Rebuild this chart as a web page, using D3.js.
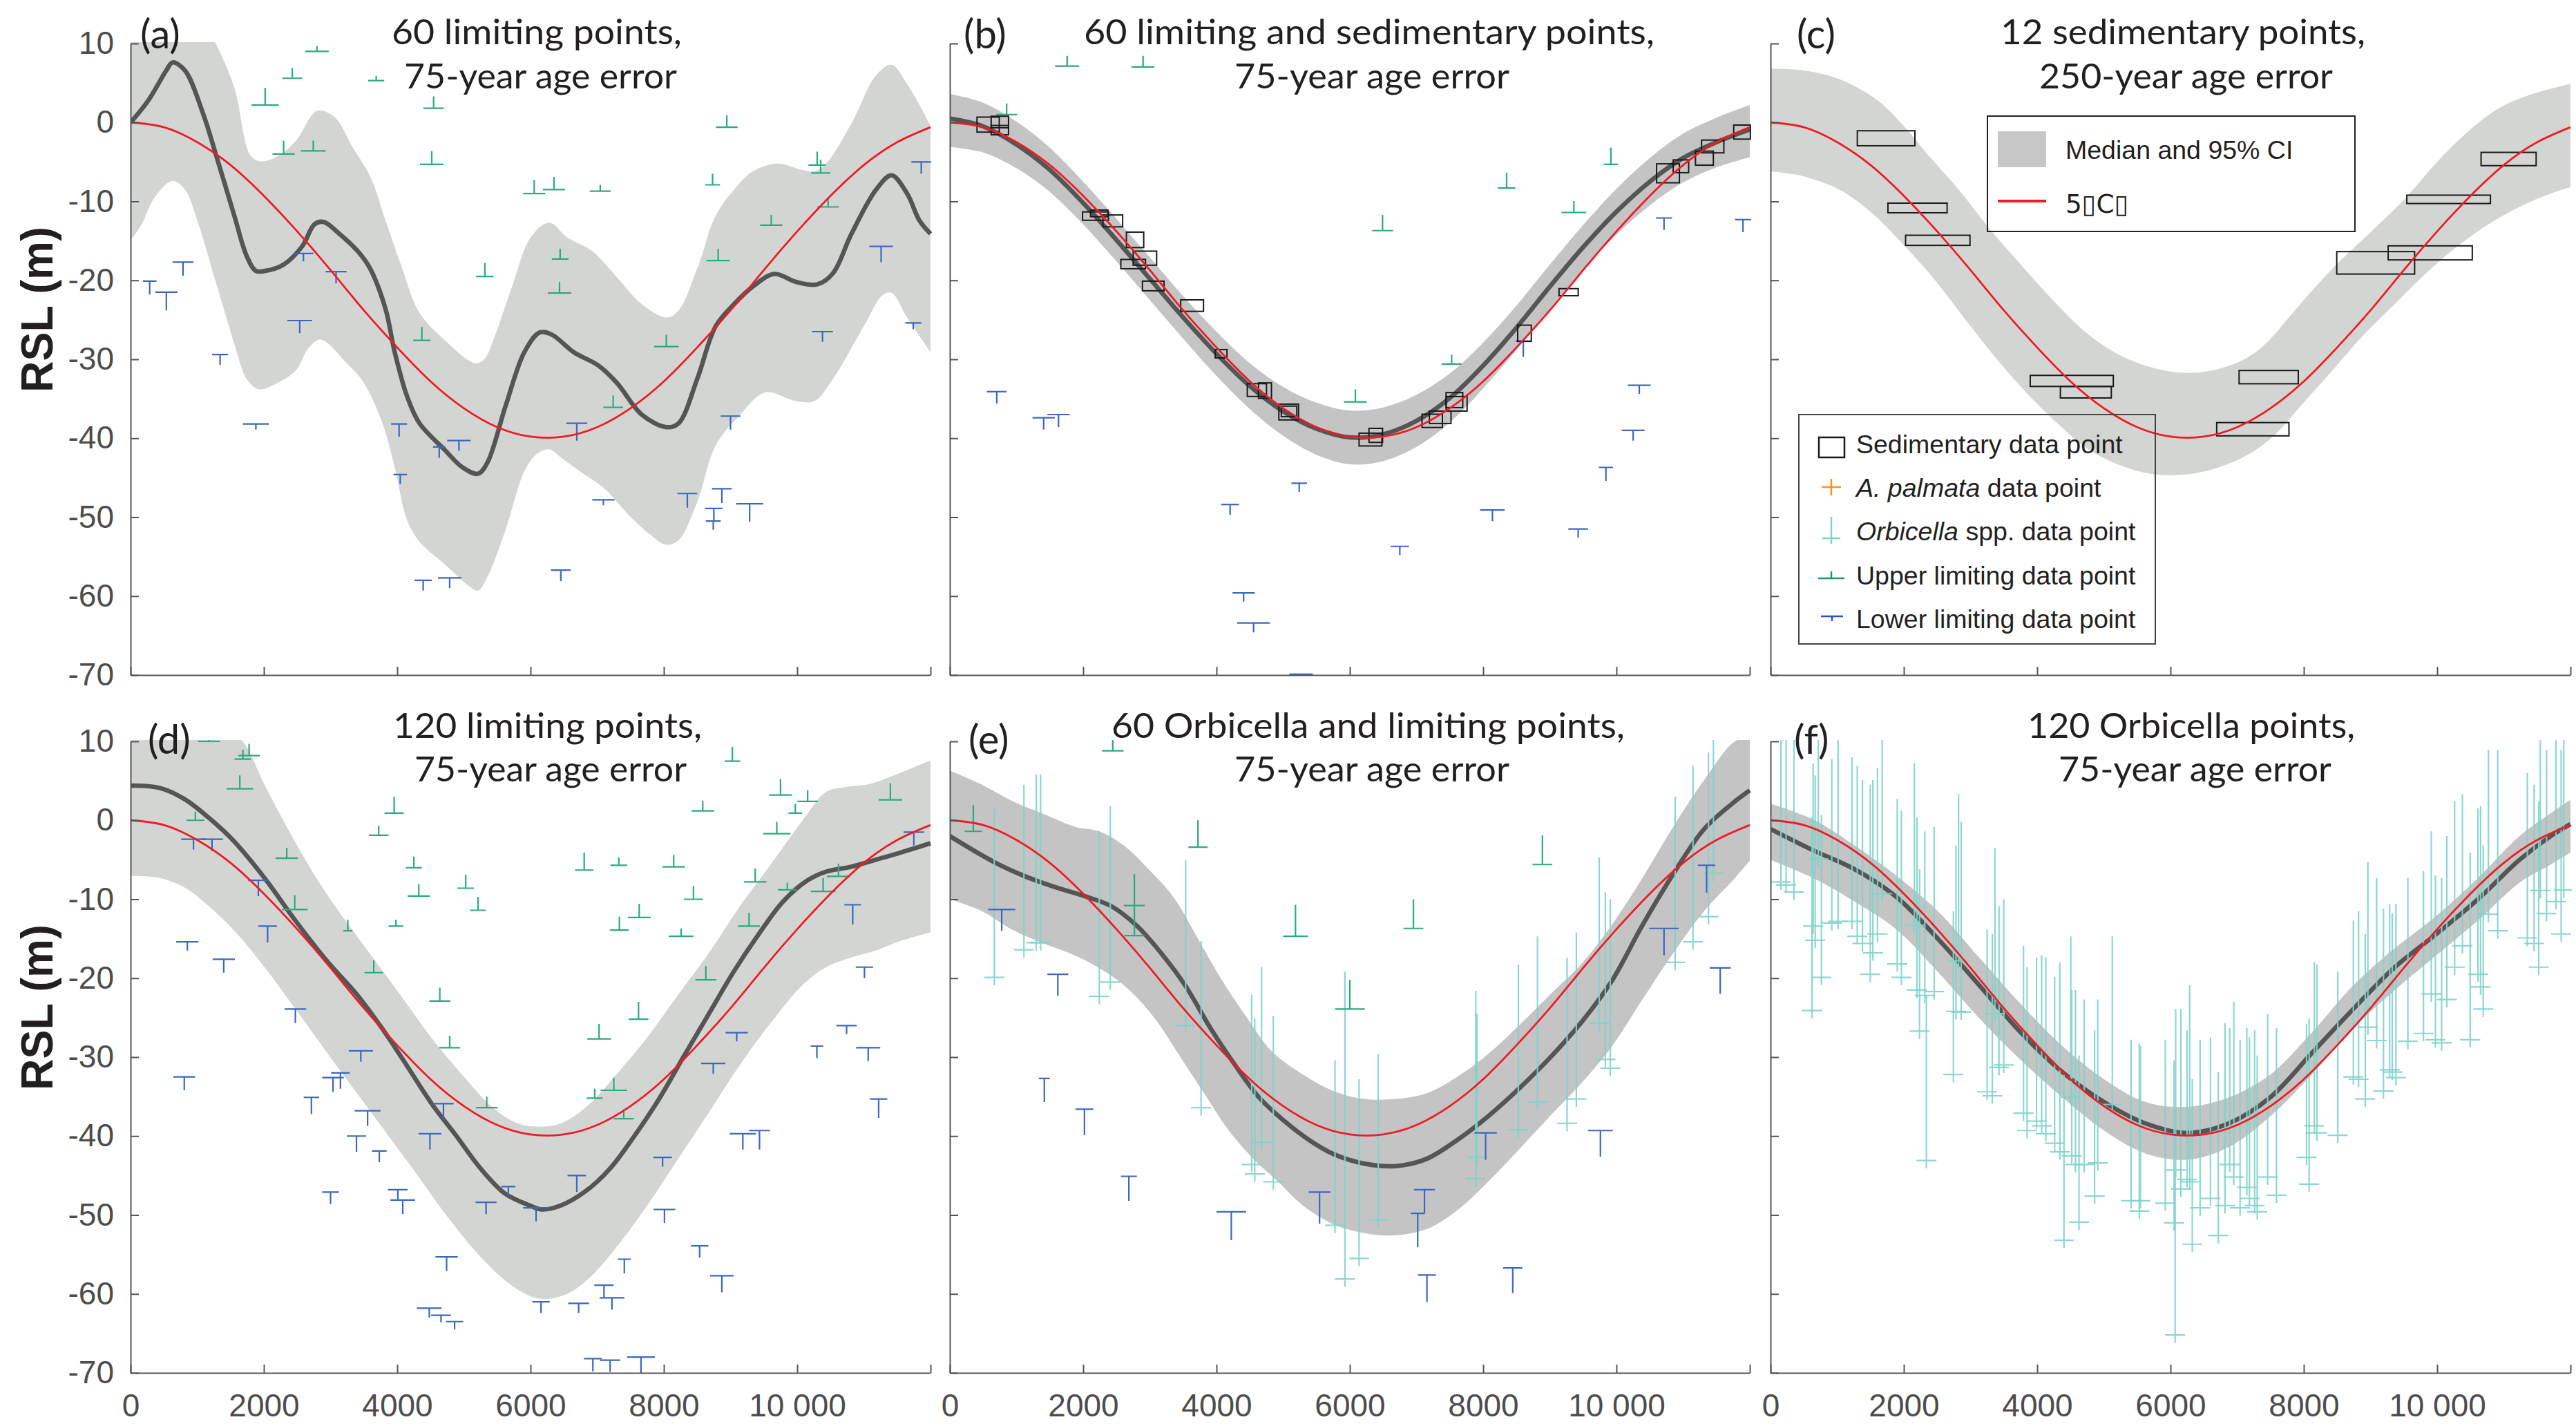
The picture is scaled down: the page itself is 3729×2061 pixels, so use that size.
<!DOCTYPE html>
<html>
<head>
<meta charset="utf-8">
<script src="https://cdn.jsdelivr.net/npm/d3@7"></script>
<style>
  html, body { margin: 0; padding: 0; background: #fff; }
  svg { display: block; }
</style>
</head>
<body>
<svg id="chart" width="3729" height="2061"></svg>
<script>
// ---- shared "true" RSL curve (red) ----
const RED_YEARS = [0, 500, 1000, 1500, 2000, 2500, 3000, 3500, 4000, 4500, 5000, 5500, 6000,
  6500, 7000, 7500, 8000, 8500, 9000, 9500, 10000, 10500, 11000, 11500, 12000];
const RED_RSL = [0, -0.6, -2.5, -5.4, -9.3, -13.8, -18.7, -23.8, -28.5, -32.8, -36.2, -38.6, -39.8,
  -39.8, -38.6, -36.2, -32.8, -28.5, -23.8, -18.7, -13.8, -9.3, -5.4, -2.5, -0.6];

// ---- axis ticks ----
const X_TICKS = [0, 2000, 4000, 6000, 8000, 10000, 12000];
const X_LABELS = ["0", "2000", "4000", "6000", "8000", "10 000", ""];
const Y_TICKS = [10, 0, -10, -20, -30, -40, -50, -60, -70];

// ---- (a) 60 limiting points ----
const medianA = [[0, 0], [259, 2.7], [537, 6.6], [630, 7.6], [815, 6.6], [1093, 1.0], [1278, -4.0],
  [1556, -11.8], [1741, -16.9], [1880, -18.8], [2019, -18.8], [2296, -18.0], [2574, -15.7],
  [2759, -12.9], [2898, -12.6], [3130, -14.1], [3407, -16.3], [3593, -18.5], [3824, -23.6],
  [3963, -29.1], [4148, -34.7], [4333, -38.1], [4704, -41.4], [4981, -43.7], [5213, -44.5],
  [5352, -43.1], [5630, -35.8], [5907, -29.1], [6139, -26.6], [6324, -26.9], [6648, -29.1],
  [7019, -30.8], [7296, -33.0], [7667, -37.0], [8037, -38.6], [8222, -38.1], [8500, -32.5],
  [8778, -25.8], [9055, -23.0], [9333, -20.8], [9657, -19.2], [9981, -20.2], [10305, -20.5],
  [10537, -19.1], [10815, -14.1], [11185, -8.5], [11416, -6.7], [11648, -9.0], [11833, -12.4],
  [12000, -14.1]];
const upperA = [[0, 13], [600, 17], [1000, 14], [1278, 10], [1556, 4.4], [1787, -4.0], [1926, -4.9],
  [2204, -4.3], [2481, -2.3], [2759, 1.3], [2870, 1.5], [3083, 0.5], [3315, -2.9], [3593, -6.8],
  [3824, -12.4], [4055, -18.0], [4333, -24.1], [4704, -27.5], [5167, -30.5], [5306, -30.0],
  [5444, -27.5], [5722, -20.8], [6000, -14.6], [6278, -12.7], [6555, -14.6], [6926, -16.3],
  [7296, -19.6], [7667, -23.0], [8037, -24.7], [8222, -23.8], [8500, -18.5], [8778, -11.8],
  [9055, -8.5], [9333, -6.2], [9704, -5.2], [10074, -6.0], [10259, -6.2], [10444, -5.1],
  [10815, -0.1], [11185, 6.0], [11416, 7.3], [11648, 4.9], [12000, -0.4]];
const lowerA = [[0, -14.9], [167, -12.9], [352, -9.6], [630, -7.4], [815, -8.5], [1000, -12.4],
  [1278, -20.2], [1556, -28.0], [1741, -32.5], [1926, -33.8], [2204, -33.0], [2481, -31.4],
  [2667, -28.6], [2852, -27.5], [3222, -30.3], [3500, -33.0], [3778, -38.1], [3963, -43.7],
  [4148, -50.4], [4333, -53.1], [4704, -55.9], [5074, -58.7], [5213, -59.3], [5352, -57.6],
  [5630, -51.5], [5907, -44.2], [6093, -42.0], [6278, -41.4], [6463, -42.5], [6741, -44.2],
  [7111, -46.4], [7481, -49.8], [7852, -52.6], [8037, -53.5], [8222, -52.9], [8500, -48.1],
  [8778, -40.9], [9148, -37.0], [9519, -34.2], [9981, -35.3], [10259, -35.3], [10537, -32.5],
  [11000, -25.8], [11278, -21.9], [11416, -21.6], [11648, -24.7], [12000, -29.1]];
// [age, RSL, age half-width, stem length]
const upperLimA = [[2796, 9.0, 176, 0.7], [2426, 5.6, 148, 1.3], [3685, 5.3, 120, 0.6],
  [2019, 2.2, 204, 2.2], [4546, 1.8, 153, 1.5], [2296, -4.0, 167, 1.7], [2741, -3.6, 185, 1.3],
  [4518, -5.3, 176, 1.7], [6055, -9.0, 167, 1.7], [6352, -8.5, 167, 1.6], [7046, -8.7, 157, 0.8],
  [8944, -0.6, 162, 1.5], [8731, -7.9, 111, 1.4], [10352, -6.4, 144, 1.7], [10300, -5.4, 130, 1.7],
  [10463, -10.7, 162, 1.1], [9611, -13.0, 167, 1.3], [8815, -17.5, 176, 1.5], [6444, -17.3, 125, 1.3],
  [5315, -19.5, 130, 1.7], [6435, -21.6, 176, 1.4], [4370, -27.6, 130, 1.7], [8037, -28.4, 185, 1.5],
  [7240, -36.1, 148, 1.5]];
const lowerLimA = [[287, -20.1, 102, 1.7], [537, -21.5, 167, 2.3], [787, -17.7, 157, 1.7],
  [1343, -29.4, 120, 1.3], [1880, -38.2, 194, 0.7], [2593, -16.6, 148, 1.0], [2537, -25.1, 185, 1.6],
  [3083, -18.9, 157, 1.5], [4028, -38.2, 120, 1.6], [4046, -44.6, 102, 1.2], [4630, -41.1, 93, 1.4],
  [4926, -40.3, 176, 1.3], [4389, -58.0, 130, 1.3], [4787, -57.7, 176, 1.3], [6454, -56.7, 148, 1.4],
  [6694, -38.1, 157, 2.2], [7093, -47.8, 167, 0.7], [8352, -47.0, 148, 1.8], [8750, -48.9, 130, 1.5],
  [8741, -50.5, 111, 1.1], [8870, -46.4, 148, 1.8], [9287, -48.3, 204, 2.3], [9000, -37.2, 148, 1.7],
  [10380, -26.5, 157, 1.3], [11259, -15.7, 176, 2.0], [11741, -25.4, 120, 0.8], [11861, -5.0, 148, 1.5]];

// ---- (b) 60 limiting and sedimentary points ----
const medianB = [[0, 0.5], [500, -0.5], [1000, -2.8], [1500, -6.0], [2000, -10.2], [2500, -14.9],
  [3000, -19.8], [3500, -24.7], [4000, -29.3], [4500, -33.4], [5000, -36.6], [5500, -38.8],
  [6000, -39.9], [6500, -39.5], [7000, -37.8], [7500, -34.9], [8000, -30.8], [8500, -26.0],
  [9000, -20.8], [9500, -15.8], [10000, -11.3], [10500, -7.5], [11000, -4.5], [11500, -2.5],
  [12000, -0.9]];
const upperB = [[0, 3.6], [500, 2.5], [1000, 0.1], [1500, -3.2], [2000, -7.5], [2500, -12.2],
  [3000, -17.1], [3500, -22.0], [4000, -26.5], [4500, -30.5], [5000, -33.5], [5500, -35.5],
  [6000, -36.5], [6500, -36.1], [7000, -34.5], [7500, -31.8], [8000, -27.9], [8500, -23.2],
  [9000, -18.0], [9500, -13.0], [10000, -8.4], [10500, -4.5], [11000, -1.4], [11500, 0.6],
  [12000, 2.2]];
const lowerB = [[0, -3.1], [500, -3.8], [1000, -5.8], [1500, -8.8], [2000, -12.9], [2500, -17.6],
  [3000, -22.5], [3500, -27.4], [4000, -32.1], [4500, -36.3], [5000, -39.7], [5500, -42.1],
  [6000, -43.3], [6500, -42.9], [7000, -41.1], [7500, -38.0], [8000, -33.7], [8500, -28.8],
  [9000, -23.6], [9500, -18.6], [10000, -14.2], [10500, -10.5], [11000, -7.6], [11500, -5.7],
  [12000, -4.4]];
const upperLimB = [[1759, 7.15, 181, 1.3], [2898, 7.04, 171, 1.4], [852, 1.0, 157, 1.4],
  [6491, -13.7, 157, 2.0], [8352, -8.3, 130, 1.9], [9916, -5.3, 106, 2.1], [9361, -11.4, 185, 1.45],
  [7528, -30.6, 148, 1.2], [6083, -35.4, 171, 1.6]];
const lowerLimB = [[704, -34.1, 148, 1.5], [1407, -37.4, 167, 1.5], [1630, -37.0, 167, 1.6],
  [4204, -48.4, 134, 1.3], [5241, -45.7, 116, 1.1], [4407, -59.6, 167, 1.1], [4556, -63.4, 245, 1.2],
  [5269, -69.9, 176, 0.5], [6750, -53.7, 139, 1.1], [8139, -49.1, 185, 1.4], [9426, -51.5, 148, 1.1],
  [9842, -43.7, 106, 1.7], [10250, -39.0, 171, 1.3], [10342, -33.3, 171, 1.1], [8602, -27.7, 116, 2.0],
  [10713, -12.1, 120, 1.5], [11898, -12.3, 120, 1.6]];
// [age, RSL, age half-width, depth half-height]
const sedB = [[574, -0.27, 167, 0.95], [750, 0.06, 130, 0.73], [750, -0.97, 130, 0.59],
  [2185, -11.86, 194, 0.53], [2241, -11.52, 130, 0.42], [2444, -12.47, 148, 0.75],
  [2778, -14.87, 130, 0.98], [2926, -17.19, 176, 0.89], [2750, -17.94, 185, 0.59],
  [3051, -20.71, 162, 0.61], [3634, -23.2, 171, 0.73], [4069, -29.3, 88, 0.53],
  [4606, -33.9, 144, 0.81], [4727, -33.97, 97, 0.98], [5083, -36.68, 148, 1.0],
  [5088, -36.6, 116, 0.67], [6310, -40.17, 171, 0.81], [6389, -39.64, 102, 0.89],
  [7236, -37.8, 153, 0.84], [7356, -37.35, 162, 0.78], [7569, -35.17, 125, 0.95],
  [7602, -35.64, 157, 0.92], [8620, -26.71, 102, 1.03], [9282, -21.5, 144, 0.45],
  [10773, -6.44, 171, 1.2], [10967, -5.55, 116, 0.81], [11319, -4.52, 134, 0.89],
  [11444, -3.04, 167, 0.81], [11884, -1.22, 125, 0.89]];

// ---- (c) 12 sedimentary points ----
const upperC = [[0, 6.8], [483, 6.6], [1029, 5.5], [1574, 3.0], [1964, -0.1], [2353, -4.0],
  [2821, -8.5], [3288, -13.5], [3756, -18.0], [4224, -22.4], [4691, -26.3], [5159, -29.1],
  [5626, -30.8], [6171, -31.7], [6639, -31.4], [7106, -30.0], [7418, -28.1], [7886, -23.6],
  [8431, -18.5], [8977, -14.1], [9522, -9.6], [9989, -5.1], [10457, -1.2], [10925, 1.8],
  [11392, 3.5], [12000, 4.9]];
const lowerC = [[0, -6.2], [483, -6.8], [1029, -8.5], [1496, -11.3], [1964, -15.2], [2431, -19.6],
  [2899, -24.7], [3366, -29.7], [3834, -34.2], [4301, -38.1], [4769, -41.4], [5236, -43.4],
  [5704, -44.5], [6249, -44.6], [6717, -43.7], [7184, -42.0], [7574, -39.5], [7964, -35.8],
  [8431, -31.4], [8899, -26.9], [9366, -23.0], [9834, -19.1], [10301, -15.7], [10769, -12.9],
  [11236, -10.7], [11704, -9.0], [12000, -8.2]];
const sedC = [[1734, -2.0, 432, 0.95], [2205, -10.83, 444, 0.61], [2509, -14.93, 483, 0.64],
  [4519, -32.74, 623, 0.70], [4730, -34.17, 382, 0.73], [7473, -32.26, 444, 0.84],
  [7235, -38.86, 542, 0.84], [9078, -17.78, 584, 1.42], [9896, -16.52, 631, 0.89],
  [10172, -9.74, 627, 0.53], [11072, -4.63, 413, 0.84]];

// ---- (d) 120 limiting points ----
const medianD = [[0, 4.4], [435, 4.1], [806, 2.7], [1176, 0.3], [1546, -2.6], [2009, -7.3],
  [2472, -12.7], [2935, -17.7], [3398, -22.1], [3768, -26.3], [4139, -31.0], [4509, -35.8],
  [4880, -39.9], [5250, -44.1], [5620, -47.3], [5991, -48.8], [6176, -49.3], [6454, -48.8],
  [6824, -47.0], [7194, -44.1], [7565, -39.9], [7935, -35.2], [8306, -29.8], [8676, -24.5],
  [9046, -19.2], [9417, -14.5], [9787, -10.3], [10157, -7.6], [10435, -6.5], [10805, -5.9],
  [11176, -5.0], [11546, -4.1], [12000, -2.9]];
const upperD = [[0, 15], [800, 14.5], [1300, 12.5], [1685, 10], [2009, 4.5], [2380, -1.4],
  [2750, -6.8], [3120, -11.5], [3583, -16.8], [4046, -22.1], [4509, -27.5], [4972, -32.2],
  [5435, -36.4], [5806, -38.4], [6130, -38.8], [6454, -38.4], [6824, -36.4], [7287, -32.2],
  [7750, -27.5], [8213, -22.1], [8676, -16.8], [9139, -10.9], [9602, -5.6], [10065, -0.2],
  [10435, 3.6], [10713, 4.2], [11083, 4.6], [11453, 5.7], [12000, 7.6]];
const lowerD = [[0, -7.05], [435, -7.3], [806, -8.5], [1176, -10.9], [1546, -13.9], [2009, -18.6],
  [2472, -23.9], [2935, -29.3], [3398, -34.6], [3861, -39.9], [4324, -45.2], [4787, -50.6],
  [5250, -55.3], [5713, -58.9], [6130, -60.6], [6546, -60.0], [6917, -57.7], [7287, -54.1],
  [7750, -48.8], [8213, -42.9], [8676, -37.0], [9139, -31.0], [9602, -25.7], [10065, -21.0],
  [10435, -18.6], [10805, -17.4], [11176, -16.5], [11546, -15.3], [12000, -14.2]];
const upperLimD = [[1176, 10, 162, 1.2], [1685, 7.75, 125, 1.2], [1778, 8.2, 162, 1.5],
  [1639, 4.0, 199, 1.7], [972, 0.0, 134, 1.1], [2343, -4.8, 167, 1.3], [2463, -11.3, 194, 1.8],
  [3259, -14.0, 69, 1.4], [3722, -1.9, 148, 1.2], [3954, 0.9, 144, 2.1], [4250, -6.0, 120, 1.4],
  [4324, -9.6, 167, 1.5], [3981, -13.4, 111, 0.8], [5028, -8.6, 125, 1.7], [5213, -11.4, 120, 1.7],
  [3648, -19.3, 139, 1.6], [4639, -22.9, 157, 1.7], [4787, -28.8, 157, 1.5], [5343, -36.4, 162, 1.4],
  [6805, -6.3, 139, 2.2], [7324, -5.7, 125, 1.0], [8148, -5.9, 167, 1.5], [8444, -10.0, 144, 1.7],
  [8259, -14.7, 185, 1.0], [7333, -13.9, 139, 1.7], [7630, -12.3, 171, 1.7], [7028, -27.7, 176, 1.9],
  [7250, -34.2, 199, 1.6], [6963, -35.2, 120, 1.2], [7398, -37.8, 148, 1.2], [7620, -25.2, 148, 2.2],
  [8630, -20.2, 157, 1.7], [8583, 1.2, 167, 1.3], [9028, 7.5, 116, 1.8], [9750, 3.2, 171, 2.0],
  [10157, 2.4, 153, 1.4], [9972, 0.9, 102, 1.2], [9694, -1.7, 204, 1.5], [9370, -7.8, 167, 1.7],
  [9278, -13.4, 162, 1.7], [9852, -8.8, 139, 0.9], [10389, -9.0, 185, 1.7], [10620, -7.1, 176, 1.6],
  [11398, 2.6, 176, 2.1]];
const lowerLimD = [[944, -2.4, 185, 1.3], [1222, -2.4, 162, 1.5], [1917, -7.6, 153, 2.0],
  [2056, -13.4, 139, 2.1], [852, -15.4, 167, 1.1], [1398, -17.6, 167, 1.7], [2472, -23.9, 162, 1.8],
  [806, -32.5, 162, 1.7], [3454, -29.2, 181, 1.4], [3037, -32.6, 162, 1.8], [3148, -32.0, 139, 2.0],
  [2713, -35.1, 116, 2.1], [3556, -36.8, 194, 1.9], [3389, -40.0, 144, 2.0], [3731, -41.9, 111, 1.4],
  [4491, -39.7, 171, 2.0], [4694, -35.9, 153, 2.1], [3000, -47.1, 125, 1.5], [4009, -46.8, 148, 1.2],
  [4083, -48.1, 185, 1.8], [5333, -48.4, 157, 1.5], [5667, -46.4, 106, 1.2], [6083, -49.1, 194, 1.7],
  [6694, -45.0, 139, 2.1], [7981, -42.7, 139, 1.2], [8009, -49.3, 162, 1.7], [8537, -53.9, 130, 1.5],
  [8870, -57.7, 176, 2.1], [8741, -30.8, 181, 1.3], [9093, -26.9, 167, 1.1], [9185, -39.7, 194, 2.0],
  [9435, -39.3, 157, 2.4], [10296, -28.6, 93, 1.5], [10741, -26.0, 153, 1.1], [11065, -28.8, 181, 1.7],
  [11222, -35.3, 130, 2.4], [11009, -18.6, 130, 1.4], [10833, -10.7, 125, 2.5], [11750, -1.5, 153, 1.7],
  [4741, -55.3, 167, 1.8], [4481, -61.8, 185, 1.2], [4657, -62.7, 148, 0.9], [4861, -63.5, 130, 1.0],
  [6157, -61.0, 130, 1.4], [6722, -61.2, 157, 1.2], [7102, -58.9, 144, 1.6], [7222, -60.5, 185, 1.5],
  [7407, -55.6, 97, 1.8], [6935, -68.2, 134, 1.6], [7194, -68.4, 153, 1.5], [7657, -68.0, 208, 2.0]];

// ---- (e) 60 Orbicella and limiting points ----
const medianE = [[0, -2.0], [667, -5.3], [1130, -7.1], [1593, -8.5], [2056, -9.7], [2426, -10.9],
  [2796, -13.3], [3167, -16.8], [3537, -21.0], [3907, -26.3], [4278, -31.0], [4648, -35.2],
  [5018, -38.1], [5389, -40.5], [5759, -42.3], [6222, -43.5], [6685, -43.8], [7148, -42.9],
  [7611, -40.5], [8074, -37.5], [8537, -34.0], [9000, -30.1], [9463, -25.7], [9926, -20.4],
  [10389, -13.3], [10852, -6.8], [11315, -1.1], [11778, 2.4], [12000, 3.8]];
const upperE = [[0, 6.3], [481, 4.5], [944, 2.4], [1407, 0.8], [1870, -0.8], [2241, -1.4],
  [2611, -3.2], [2981, -6.2], [3352, -9.7], [3722, -15.0], [4093, -20.4], [4463, -25.1],
  [4833, -29.3], [5296, -32.2], [5759, -34.3], [6222, -35.3], [6685, -35.3], [7148, -34.6],
  [7611, -32.5], [8074, -29.6], [8537, -26.0], [9000, -22.1], [9463, -18.3], [9926, -13.3],
  [10389, -7.3], [10852, -0.8], [11315, 5.1], [11778, 10], [12000, 10.4]];
const lowerE = [[0, -10.0], [481, -11.5], [944, -13.9], [1407, -15.6], [1870, -17.1], [2333, -19.2],
  [2704, -21.6], [3074, -25.1], [3444, -29.8], [3815, -34.6], [4185, -39.3], [4555, -42.9],
  [4926, -45.8], [5296, -48.8], [5759, -51.2], [6222, -52.3], [6639, -52.6], [7148, -51.8],
  [7611, -49.4], [8074, -45.8], [8537, -41.7], [9000, -37.5], [9463, -33.4], [9926, -28.7],
  [10389, -22.7], [10852, -16.8], [11315, -11.5], [11778, -7.3], [12000, -5.1]];
const upperLimE = [[352, -1.4, 130, 3.3], [2444, 8.8, 162, 1.7], [3722, -3.4, 144, 3.4],
  [2768, -14.6, 153, 3.7], [2768, -10.8, 157, 4.0], [5185, -14.7, 185, 4.0], [6954, -13.7, 148, 3.7],
  [8889, -5.6, 148, 3.7], [6000, -23.9, 222, 3.7]];
const lowerLimE = [[778, -11.3, 204, 2.7], [1620, -19.5, 157, 2.7], [1417, -32.7, 83, 3.0],
  [2019, -36.6, 134, 3.3], [2685, -45.1, 120, 3.1], [4222, -49.6, 222, 3.6], [5546, -47.1, 162, 4.0],
  [7018, -49.8, 102, 4.3], [7120, -46.8, 157, 3.0], [7157, -57.6, 134, 3.4], [8444, -56.7, 144, 3.2],
  [8037, -39.6, 167, 3.4], [9759, -39.3, 185, 3.3], [10713, -13.7, 222, 3.4], [11556, -18.7, 157, 3.3],
  [11352, -5.7, 130, 3.5]];
// [age, RSL at bar, top of depth range]
const orbE = [[667, -19.9, 1.5], [1111, -16.4, 4.5], [1296, -15.5, 5.8], [1361, -15.5, 5.8],
  [2241, -22.3, -1.4], [2407, -20.5, 1.8], [3537, -26.0, -5.0], [3769, -36.4, -15.3],
  [4528, -43.6, -22.1], [4574, -44.8, -25.1], [4676, -40.8, -18.6], [4852, -45.8, -24.8],
  [5778, -51.3, -30.4], [5926, -58.1, -19.2], [6139, -55.5, -32.8], [6426, -50.6, -29.6],
  [7889, -45.4, -21.6], [7907, -42.7, -24.5], [8528, -39.2, -18.3], [8815, -35.7, -14.7],
  [9259, -38.4, -17.4], [9398, -35.3, -14.2], [9741, -25.7, -4.7], [9833, -30.3, -9.1],
  [9907, -31.4, -10.0], [10880, -18.0, 3.0], [11148, -15.4, 6.9], [11380, -12.2, 8.6],
  [11454, -6.7, 12]];

// ---- (f) 120 Orbicella points ----
const medianF = [[0, -1.1], [639, -3.8], [1262, -6.2], [1886, -9.7], [2509, -15.0], [3132, -20.9],
  [3756, -26.9], [4379, -31.9], [5003, -35.7], [5626, -38.4], [6249, -39.6], [6873, -38.4],
  [7496, -35.1], [8119, -29.5], [8743, -23.9], [9366, -18.6], [9989, -14.4], [10613, -10.0],
  [11236, -5.0], [11704, -2.0], [12000, -0.5]];
const upperF = [[0, 2.1], [639, 0.1], [1262, -3.2], [1886, -7.0], [2509, -11.5], [3132, -17.4],
  [3756, -23.3], [4379, -28.6], [5003, -32.8], [5626, -35.7], [6249, -36.3], [6873, -35.1],
  [7496, -32.2], [8119, -26.9], [8743, -20.9], [9366, -16.2], [9989, -12.1], [10613, -7.3],
  [11236, -2.0], [11704, 0.9], [12000, 2.6]];
const lowerF = [[0, -5.0], [639, -7.3], [1262, -10.3], [1886, -13.8], [2509, -19.2], [3132, -25.1],
  [3756, -30.4], [4379, -35.1], [5003, -39.3], [5626, -42.2], [6249, -43.0], [6873, -41.4],
  [7496, -37.5], [8119, -32.2], [8743, -26.3], [9366, -21.5], [9989, -17.1], [10613, -12.7],
  [11236, -7.9], [11704, -5.6], [12000, -4.1]];
const orbF = [[156, -7.8, 12], [234, -8.2, 12], [351, -9.1, 12], [639, -13.4, 7.2], [670, -15.2, 5.7],
  [623, -24.1, 0.4], [764, -19.9, 0.7], [717, -4.9, 12], [919, -13.0, 7.8], [1013, -12.8, 12],
  [1223, -12.8, 8.0], [1301, -14.7, 6.9], [1379, -15.6, 5.1], [1496, -19.5, 4.5], [1535, -16.8, 5.1],
  [1605, -14.4, 6.6], [1675, -9.3, 12], [1901, -18.2, 2.7], [1964, -19.9, 1.2], [2158, -13.3, 7.2],
  [2197, -21.5, 0.4], [2236, -26.7, -6.2], [2314, -22.2, -1.4], [2338, -43.1, -22.1], [2454, -21.7, -0.8],
  [2782, -24.2, -3.2], [2821, -17.8, 3.3], [2743, -32.2, -11.5], [2860, -24.3, -0.2], [3249, -34.4, -13.8],
  [3327, -34.9, -14.4], [3366, -24.5, -3.5], [3428, -31.3, -10.9], [3499, -31.0, -10.0], [3795, -37.1, -15.9],
  [3849, -39.3, -18.6], [3990, -38.1, -17.4], [4067, -38.7, -17.1], [4130, -39.7, -17.4], [4262, -40.9, -19.8],
  [4340, -42.0, -18.0], [4402, -53.2, -32.2], [4504, -35.1, -14.7], [4519, -42.5, -21.5], [4574, -43.6, -21.5],
  [4628, -50.9, -29.8], [4706, -43.6, -22.7], [4862, -47.6, -26.6], [4909, -43.4, -22.7], [5127, -36.0, -14.7],
  [5408, -48.2, -27.8], [5532, -49.5, -28.3], [5548, -48.2, -28.6], [5922, -48.5, -27.8], [6054, -51.0, -30.4],
  [6078, -44.3, -23.9], [6156, -46.7, -23.9], [6070, -65.2, -44.6], [6249, -45.5, -26.6], [6288, -45.8, -20.9],
  [6327, -53.7, -32.8], [6444, -49.1, -27.8], [6600, -47.9, -27.5], [6717, -52.6, -31.9], [6818, -48.8, -25.7],
  [6888, -43.6, -26.3], [6950, -45.2, -23.0], [7044, -49.1, -27.8], [7145, -46.5, -26.3], [7184, -47.9, -27.5],
  [7262, -48.8, -26.6], [7301, -49.6, -29.8], [7457, -45.2, -24.5], [7589, -47.5, -26.3], [8041, -42.7, -25.8],
  [8080, -46.1, -25.1], [8158, -38.7, -18.0], [8197, -39.6, -18.3], [8509, -39.9, -19.2], [8743, -32.5, -12.7],
  [8821, -32.8, -11.5], [8922, -35.3, -14.4], [8961, -26.2, -5.3], [9093, -27.9, -7.3], [9195, -34.3, -11.2],
  [9288, -31.6, -10.6], [9327, -31.9, -11.8], [9382, -32.6, -10.6], [9561, -28.0, -7.3], [9795, -27.0, -6.4],
  [9912, -22.0, -1.4], [9974, -27.8, -7.0], [10067, -28.2, -7.3], [10145, -22.7, -2.0], [10262, -18.6, 2.4],
  [10379, -15.9, 3.3], [10496, -27.8, -4.1], [10613, -19.5, 1.5], [10652, -21.1, 1.8], [10691, -23.9, -3.2],
  [10769, -11.9, 8.9], [10909, -14.0, 8.9], [11353, -14.9, 6.0], [11454, -15.6, 4.5], [11524, -18.6, 2.4],
  [11548, -8.9, 12], [11641, -11.8, 8.9], [11782, -10.3, 12], [11860, -14.4, 8.9], [11899, -8.8, 12]];

// Orbicella symbol constants (years / metres)
const ORB_AGE_HW = 150;
const ORB_BELOW = 1.0;

// ---- layout ----
const COLS = [189, 1375, 2563];
const ROWS = [63, 1073];
const PW = 1158, PH = 914;

const TICK_FONT = "'Liberation Sans', Arial, Helvetica, sans-serif";
const TITLE_FONT = "Lato, 'Open Sans', sans-serif";

const COLORS = {
  bandLight: "#d3d5d3",
  bandDark: "#c4c4c4",
  median: "#555555",
  red: "#ee1c25",
  upper: "#2aaa80",
  lower: "#3c67c0",
  orb: "#7fd3cb",
  palmata: "#f7941d",
  axis: "#555555",
  tickText: "#4d4d4d",
  text: "#231f20"
};

const panels = [
  { id: "a", col: 0, row: 0, band: COLORS.bandLight, upper: upperA, lower: lowerA, median: medianA,
    upLim: upperLimA, loLim: lowerLimA,
    label: { x: 203 }, titles: [["60 limiting points,", 567, 420], ["75-year age error", 585, 395]] },
  { id: "b", col: 1, row: 0, band: COLORS.bandDark, upper: upperB, lower: lowerB, median: medianB,
    upLim: upperLimB, loLim: lowerLimB, sed: sedB,
    label: { x: 1395 }, titles: [["60 limiting and sedimentary points,", 1569, 826], ["75-year age error", 1787, 398]] },
  { id: "c", col: 2, row: 0, band: COLORS.bandLight, upper: upperC, lower: lowerC, sed: sedC,
    label: { x: 2601 }, titles: [["12 sedimentary points,", 2896, 528], ["250-year age error", 2952, 425]] },
  { id: "d", col: 0, row: 1, band: COLORS.bandLight, upper: upperD, lower: lowerD, median: medianD,
    upLim: upperLimD, loLim: lowerLimD,
    label: { x: 214 }, titles: [["120 limiting points,", 569, 447], ["75-year age error", 600, 394]] },
  { id: "e", col: 1, row: 1, band: COLORS.bandDark, upper: upperE, lower: lowerE, median: medianE,
    upLim: upperLimE, loLim: lowerLimE, orb: orbE,
    label: { x: 1402 }, titles: [["60 Orbicella and limiting points,", 1609, 743], ["75-year age error", 1787, 398]] },
  { id: "f", col: 2, row: 1, band: COLORS.bandDark, upper: upperF, lower: lowerF, median: medianF,
    orb: orbF,
    label: { x: 2597 }, titles: [["120 Orbicella points,", 2935, 474], ["75-year age error", 2980, 395]] }
];

const svg = d3.select("#chart");
svg.append("rect").attr("width", 3729).attr("height", 2061).attr("fill", "#fff");

const x = d3.scaleLinear().domain([0, 12000]).range([0, PW]);
const y = d3.scaleLinear().domain([-70, 10]).range([PH, 0]);

const smooth = d3.line()
  .x((d) => x(d[0]))
  .y((d) => y(d[1]))
  .curve(d3.curveCatmullRom.alpha(0.5));

const redLine = d3.line()
  .x((d) => x(d[0]))
  .y((d) => y(d[1]))
  .curve(d3.curveNatural);

const redPts = RED_YEARS.map((yr, i) => [yr, RED_RSL[i]]);

panels.forEach(drawPanel);

function drawPanel(p) {
  const ox = COLS[p.col], oy = ROWS[p.row];
  const g = svg.append("g").attr("transform", `translate(${ox},${oy})`);

  const clipId = "clip-" + p.id;
  g.append("clipPath").attr("id", clipId)
    .append("rect").attr("x", 0).attr("y", -2).attr("width", PW + 2).attr("height", PH + 2);

  const plot = g.append("g").attr("clip-path", `url(#${clipId})`);

  // credible interval band
  const top = smooth(p.upper);
  const bottom = smooth(p.lower.slice().reverse());
  plot.append("path")
    .attr("d", top + "L" + bottom.slice(1) + "Z")
    .attr("fill", p.band)
    .attr("stroke", "none");

  // median
  if (p.median) {
    plot.append("path")
      .attr("d", smooth(p.median))
      .attr("fill", "none")
      .attr("stroke", COLORS.median)
      .attr("stroke-width", 6.5)
      .attr("stroke-linejoin", "round");
  }

  // Orbicella points
  if (p.orb) {
    plot.append("g").selectAll("path")
      .data(p.orb)
      .enter()
      .append("path")
      .attr("d", (d) =>
        `M${x(d[0])},${y(d[2])}V${y(d[1] - ORB_BELOW)}` +
        `M${x(d[0] - ORB_AGE_HW)},${y(d[1])}H${x(d[0] + ORB_AGE_HW)}`)
      .attr("stroke", COLORS.orb)
      .attr("stroke-width", 2.2)
      .attr("stroke-opacity", 0.9)
      .attr("fill", "none");
  }

  // upper limiting points (bar below, stem up)
  if (p.upLim) {
    plot.append("g").selectAll("path")
      .data(p.upLim)
      .enter()
      .append("path")
      .attr("d", (d) =>
        `M${x(d[0] - d[2])},${y(d[1])}H${x(d[0] + d[2])}` +
        `M${x(d[0])},${y(d[1])}V${y(d[1] + d[3])}`)
      .attr("stroke", COLORS.upper)
      .attr("stroke-width", 2.2)
      .attr("fill", "none");
  }

  // lower limiting points (bar on top, stem down)
  if (p.loLim) {
    plot.append("g").selectAll("path")
      .data(p.loLim)
      .enter()
      .append("path")
      .attr("d", (d) =>
        `M${x(d[0] - d[2])},${y(d[1])}H${x(d[0] + d[2])}` +
        `M${x(d[0])},${y(d[1])}V${y(d[1] - d[3])}`)
      .attr("stroke", COLORS.lower)
      .attr("stroke-width", 2.2)
      .attr("fill", "none");
  }

  // sedimentary boxes
  if (p.sed) {
    plot.append("g").selectAll("rect")
      .data(p.sed)
      .enter()
      .append("rect")
      .attr("x", (d) => x(d[0] - d[2]))
      .attr("y", (d) => y(d[1] + d[3]))
      .attr("width", (d) => x(d[0] + d[2]) - x(d[0] - d[2]))
      .attr("height", (d) => y(d[1] - d[3]) - y(d[1] + d[3]))
      .attr("fill", "none")
      .attr("stroke", "#1a1a1a")
      .attr("stroke-width", 2);
  }

  // true RSL
  plot.append("path")
    .attr("d", redLine(redPts))
    .attr("fill", "none")
    .attr("stroke", COLORS.red)
    .attr("stroke-width", 2.8);

  // axes
  const yAxis = d3.axisLeft(y)
    .tickValues(Y_TICKS)
    .tickSizeInner(-12)
    .tickSizeOuter(0)
    .tickPadding(24)
    .tickFormat((d) => (p.col === 0 ? String(d) : ""));
  const xAxis = d3.axisBottom(x)
    .tickValues(X_TICKS)
    .tickSizeInner(-12)
    .tickSizeOuter(0)
    .tickPadding(30)
    .tickFormat((d, i) => (p.row === 1 ? X_LABELS[i] : ""));

  const ya = g.append("g").call(yAxis);
  const xa = g.append("g").attr("transform", `translate(0,${PH})`).call(xAxis);
  [ya, xa].forEach((a) => {
    a.select(".domain").attr("stroke", COLORS.axis).attr("stroke-width", 2);
    a.selectAll(".tick line").attr("stroke", COLORS.axis).attr("stroke-width", 2);
    a.selectAll(".tick text")
      .attr("fill", COLORS.tickText)
      .style("font-family", TICK_FONT)
      .style("font-size", "46px");
  });

  // panel letter
  svg.append("text")
    .attr("x", p.label.x)
    .attr("y", p.row === 0 ? 70 : 1091)
    .attr("fill", COLORS.text)
    .style("font-family", TITLE_FONT)
    .style("font-size", "58px")
    .text(`(${p.id})`);

  // title
  p.titles.forEach((t, i) => {
    const base = p.row === 0 ? [64, 128] : [1068, 1131];
    svg.append("text")
      .attr("x", t[1])
      .attr("y", base[i])
      .attr("textLength", t[2])
      .attr("lengthAdjust", "spacingAndGlyphs")
      .attr("fill", COLORS.text)
      .style("font-family", TITLE_FONT)
      .style("font-size", "50px")
      .text(t[0]);
  });

  // y label
  if (p.col === 0) {
    const cy = p.row === 0 ? 448 : 1458;
    svg.append("text")
      .attr("transform", `translate(76,${cy}) rotate(-90)`)
      .attr("text-anchor", "middle")
      .attr("textLength", 240)
      .attr("lengthAdjust", "spacingAndGlyphs")
      .attr("fill", COLORS.text)
      .style("font-family", TICK_FONT)
      .style("font-weight", "bold")
      .style("font-size", "64px")
      .text("RSL (m)");
  }
}

// ---- legends (panel c) ----
const LEG_FONT = TICK_FONT;

// legend 1: band and true curve
const leg1 = svg.append("g");
leg1.append("rect").attr("x", 2877).attr("y", 168).attr("width", 532).attr("height", 167)
  .attr("fill", "none").attr("stroke", "#222").attr("stroke-width", 2);
leg1.append("rect").attr("x", 2892).attr("y", 190).attr("width", 70).attr("height", 52)
  .attr("fill", "#c6c7c6");
leg1.append("line").attr("x1", 2892).attr("x2", 2962).attr("y1", 291).attr("y2", 291)
  .attr("stroke", COLORS.red).attr("stroke-width", 4);
leg1.append("text").attr("x", 2990).attr("y", 230).attr("fill", COLORS.text)
  .style("font-family", LEG_FONT).style("font-size", "37.5px").text("Median and 95% CI");
leg1.append("text").attr("x", 2990).attr("y", 308).attr("fill", COLORS.text)
  .style("font-family", "'DejaVu Sans', " + LEG_FONT).style("font-size", "37.5px").text("5\u25AFC\u25AF");

// legend 2: data point types
const leg2 = svg.append("g");
leg2.append("rect").attr("x", 2604).attr("y", 600).attr("width", 516).attr("height", 332)
  .attr("fill", "none").attr("stroke", "#444").attr("stroke-width", 2);

const legItems = [
  { y: 642, parts: [["Sedimentary data point", false]] },
  { y: 705, parts: [["A. palmata", true], [" data point", false]] },
  { y: 768, parts: [["Orbicella", true], [" spp. data point", false]] },
  { y: 832, parts: [["Upper limiting data point", false]] },
  { y: 895, parts: [["Lower limiting data point", false]] }
];
legItems.forEach((it) => {
  const t = leg2.append("text").attr("x", 2687).attr("y", it.y + 13.5).attr("fill", COLORS.text)
    .style("font-family", LEG_FONT).style("font-size", "37.5px");
  it.parts.forEach((pt) => {
    t.append("tspan").style("font-style", pt[1] ? "italic" : "normal").text(pt[0]);
  });
});
// symbols
leg2.append("rect").attr("x", 2633).attr("y", 633).attr("width", 37).attr("height", 29)
  .attr("fill", "none").attr("stroke", "#1a1a1a").attr("stroke-width", 2.5);
leg2.append("path").attr("d", "M2637,705H2665M2651,693V717")
  .attr("stroke", COLORS.palmata).attr("stroke-width", 2.5).attr("fill", "none");
leg2.append("path").attr("d", "M2651,748V787M2638,779H2664")
  .attr("stroke", COLORS.orb).attr("stroke-width", 2.5).attr("fill", "none");
leg2.append("path").attr("d", "M2632,837H2670M2651,837V827")
  .attr("stroke", "#1a9a6c").attr("stroke-width", 2.5).attr("fill", "none");
leg2.append("path").attr("d", "M2636,892H2668M2652,892V899")
  .attr("stroke", "#2a55b0").attr("stroke-width", 2.5).attr("fill", "none");
</script>
</body>
</html>
